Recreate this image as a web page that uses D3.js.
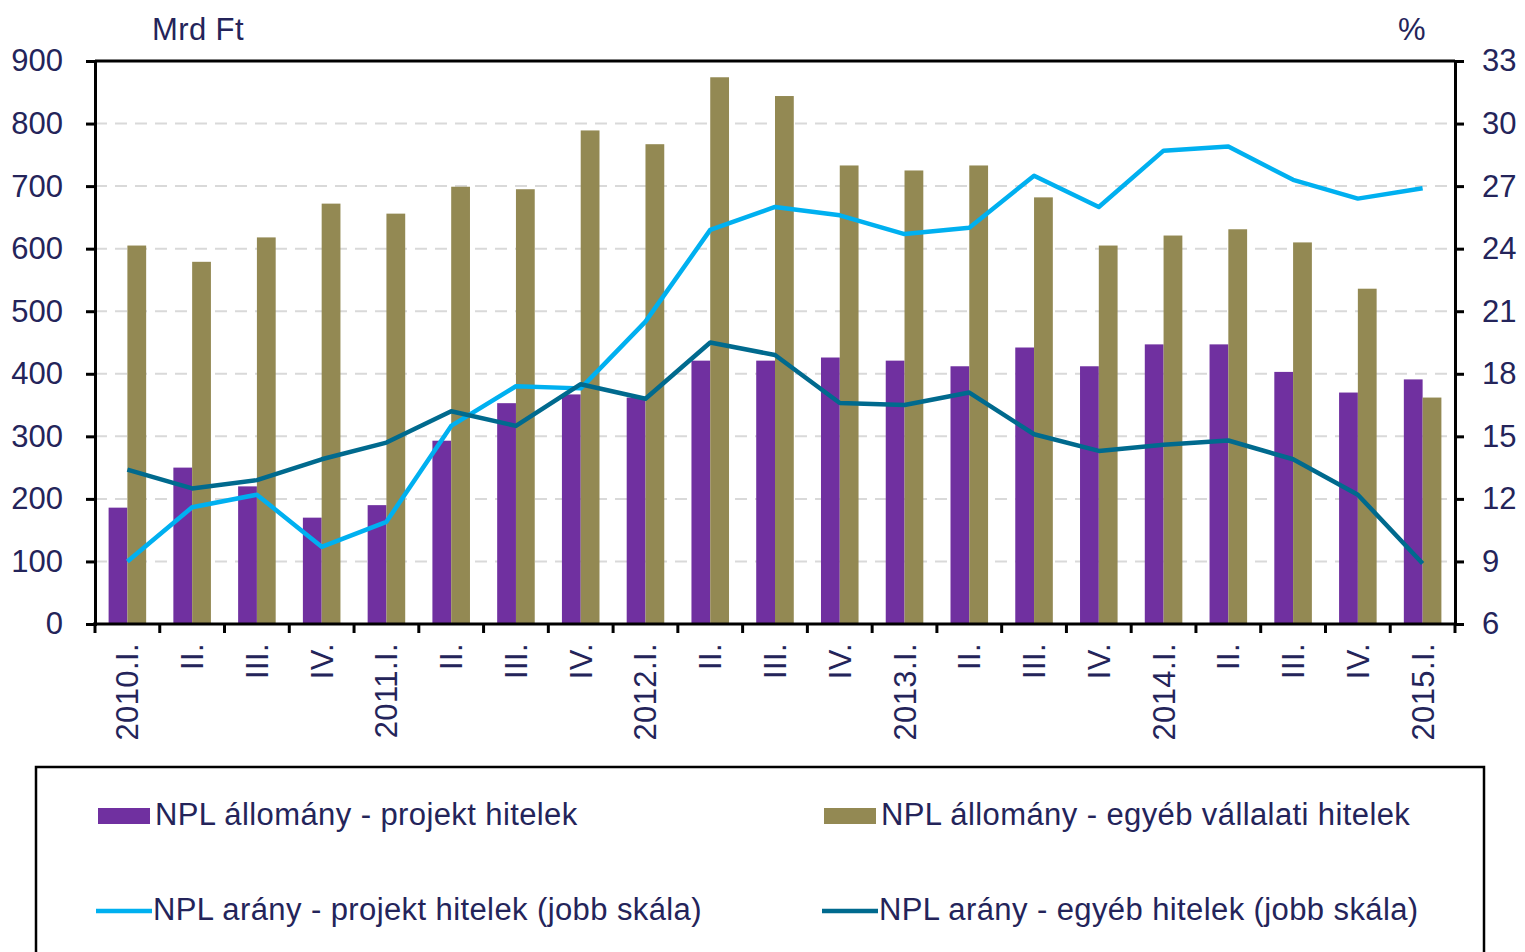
<!DOCTYPE html>
<html>
<head>
<meta charset="utf-8">
<script src="https://cdn.jsdelivr.net/npm/d3@7"></script>
<style>
  body { margin: 0; background: #fff; }
  text { font-family: "Liberation Sans", Arial, sans-serif; fill: #24245a; }
</style>
</head>
<body>
<script>
// quarters
var categories = ["2010.I.", "II.", "III.", "IV.", "2011.I.", "II.", "III.", "IV.",
  "2012.I.", "II.", "III.", "IV.", "2013.I.", "II.", "III.", "IV.",
  "2014.I.", "II.", "III.", "IV.", "2015.I."];

// bars, Mrd Ft (left scale)
var nplProjekt = [186, 250, 220, 170, 190, 293, 353, 367, 362, 421, 421, 426, 421, 412, 442, 412, 447, 447, 403, 370, 391];
var nplEgyeb   = [605, 579, 618, 672, 656, 699, 695, 789, 767, 874, 844, 733, 725, 733, 682, 605, 621, 631, 610, 536, 362];

// lines, % (right scale)
var aranyProjekt = [9.0, 11.6, 12.2, 9.7, 10.9, 15.5, 17.4, 17.3, 20.5, 24.9, 26.0, 25.6, 24.7, 25.0, 27.5, 26.0, 28.7, 28.9, 27.3, 26.4, 26.9];
var aranyEgyeb   = [13.4, 12.5, 12.9, 13.9, 14.7, 16.2, 15.5, 17.5, 16.8, 19.5, 18.9, 16.6, 16.5, 17.1, 15.1, 14.3, 14.6, 14.8, 13.9, 12.2, 8.9];

var leftTicks = [0, 100, 200, 300, 400, 500, 600, 700, 800, 900];
var rightTicks = [6, 9, 12, 15, 18, 21, 24, 27, 30, 33];

var W = 1525, H = 952;
var m = {left: 95, right: 1455, top: 61, bottom: 624};
var FS = "31px";

var svg = d3.select("body").append("svg")
    .attr("width", W).attr("height", H);

var x = d3.scaleBand().domain(d3.range(categories.length))
    .range([m.left, m.right]).paddingInner(0).paddingOuter(0);
var yL = d3.scaleLinear().domain([0, 900]).range([m.bottom, m.top]);
var yR = d3.scaleLinear().domain([6, 33]).range([m.bottom, m.top]);

var bw = x.bandwidth() * 0.29;

// dashed grid
svg.append("g").selectAll("line")
    .data(leftTicks.filter(function(d){ return d > 0 && d < 900; }))
    .enter().append("line")
    .attr("x1", m.left).attr("x2", m.right)
    .attr("y1", function(d){ return yL(d); })
    .attr("y2", function(d){ return yL(d); })
    .style("stroke", "#d9d9d9")
    .style("stroke-width", 2)
    .style("stroke-dasharray", "12,8");

// bars
var bars = svg.append("g");
bars.selectAll(".bp").data(nplProjekt).enter().append("rect")
    .attr("x", function(d, i){ return x(i) + x.bandwidth()/2 - bw; })
    .attr("width", bw)
    .attr("y", function(d){ return yL(d); })
    .attr("height", function(d){ return yL(0) - yL(d); })
    .style("fill", "#7030a0");
bars.selectAll(".be").data(nplEgyeb).enter().append("rect")
    .attr("x", function(d, i){ return x(i) + x.bandwidth()/2; })
    .attr("width", bw)
    .attr("y", function(d){ return yL(d); })
    .attr("height", function(d){ return yL(0) - yL(d); })
    .style("fill", "#938953");

// lines
var line = d3.line()
    .x(function(d, i){ return x(i) + x.bandwidth()/2; })
    .y(function(d){ return yR(d); });

svg.append("path").datum(aranyProjekt)
    .attr("d", line)
    .style("fill", "none")
    .style("stroke", "#00b0f0")
    .style("stroke-width", 4.5)
    .style("stroke-linejoin", "round");
svg.append("path").datum(aranyEgyeb)
    .attr("d", line)
    .style("fill", "none")
    .style("stroke", "#006a8e")
    .style("stroke-width", 4.5)
    .style("stroke-linejoin", "round");

// frame top
svg.append("line")
    .attr("x1", m.left).attr("x2", m.right)
    .attr("y1", m.top).attr("y2", m.top)
    .style("stroke", "#000").style("stroke-width", 3);

// axes
var axL = d3.axisLeft(yL).tickValues(leftTicks).tickSize(9).tickPadding(23);
var axR = d3.axisRight(yR).tickValues(rightTicks).tickSize(9).tickPadding(18);

var gL = svg.append("g").attr("transform", "translate(" + m.left + ",0)").call(axL);
var gR = svg.append("g").attr("transform", "translate(" + m.right + ",0)").call(axR);
[gL, gR].forEach(function(g){
  g.select(".domain").style("stroke", "#000").style("stroke-width", 3);
  g.selectAll(".tick line").style("stroke", "#000").style("stroke-width", 3);
  g.selectAll(".tick text").style("font-size", FS).style("fill", "#24245a")
    .attr("font-family", null);
});

// bottom axis: ticks at category boundaries
var gB = svg.append("g");
gB.append("line")
    .attr("x1", m.left - 2).attr("x2", m.right + 2)
    .attr("y1", m.bottom).attr("y2", m.bottom)
    .style("stroke", "#000").style("stroke-width", 3);
gB.selectAll(".bt").data(d3.range(categories.length + 1)).enter().append("line")
    .attr("x1", function(i){ return m.left + i * x.step(); })
    .attr("x2", function(i){ return m.left + i * x.step(); })
    .attr("y1", m.bottom).attr("y2", m.bottom + 9)
    .style("stroke", "#000").style("stroke-width", 3);
gB.selectAll(".bl").data(categories).enter().append("text")
    .attr("transform", function(d, i){
      return "translate(" + (x(i) + x.bandwidth()/2 + 11) + "," + (m.bottom + 19) + ") rotate(-90)";
    })
    .attr("text-anchor", "end")
    .style("font-size", FS)
    .style("letter-spacing", "0.4px")
    .text(function(d){ return d; });

// unit labels
svg.append("text").attr("x", 152).attr("y", 40).style("font-size", FS)
    .style("letter-spacing", "0.4px").text("Mrd Ft");
svg.append("text").attr("x", 1398).attr("y", 40).style("font-size", FS).text("%");

// legend
svg.append("rect")
    .attr("x", 36).attr("y", 767).attr("width", 1448).attr("height", 200)
    .style("fill", "#fff").style("stroke", "#000").style("stroke-width", 2.5);

var legendItems = [
  {label: "NPL állomány - projekt hitelek", color: "#7030a0", type: "bar", lx: 98, ly: 816},
  {label: "NPL állomány - egyéb vállalati hitelek", color: "#938953", type: "bar", lx: 824, ly: 816},
  {label: "NPL arány - projekt hitelek (jobb skála)", color: "#00b0f0", type: "line", lx: 96, ly: 911},
  {label: "NPL arány - egyéb hitelek (jobb skála)", color: "#006a8e", type: "line", lx: 822, ly: 911}
];
var lg = svg.append("g").selectAll("g").data(legendItems).enter().append("g");
lg.filter(function(d){ return d.type === "bar"; }).append("rect")
    .attr("x", function(d){ return d.lx; }).attr("y", function(d){ return d.ly - 8; })
    .attr("width", 52).attr("height", 16)
    .style("fill", function(d){ return d.color; });
lg.filter(function(d){ return d.type === "line"; }).append("line")
    .attr("x1", function(d){ return d.lx; }).attr("x2", function(d){ return d.lx + 56; })
    .attr("y1", function(d){ return d.ly; }).attr("y2", function(d){ return d.ly; })
    .style("stroke", function(d){ return d.color; }).style("stroke-width", 4.5);
lg.append("text")
    .attr("x", function(d){ return d.lx + 57; })
    .attr("y", function(d){ return d.ly + 9; })
    .style("font-size", FS)
    .style("letter-spacing", "0.4px")
    .text(function(d){ return d.label; });
</script>
</body>
</html>
